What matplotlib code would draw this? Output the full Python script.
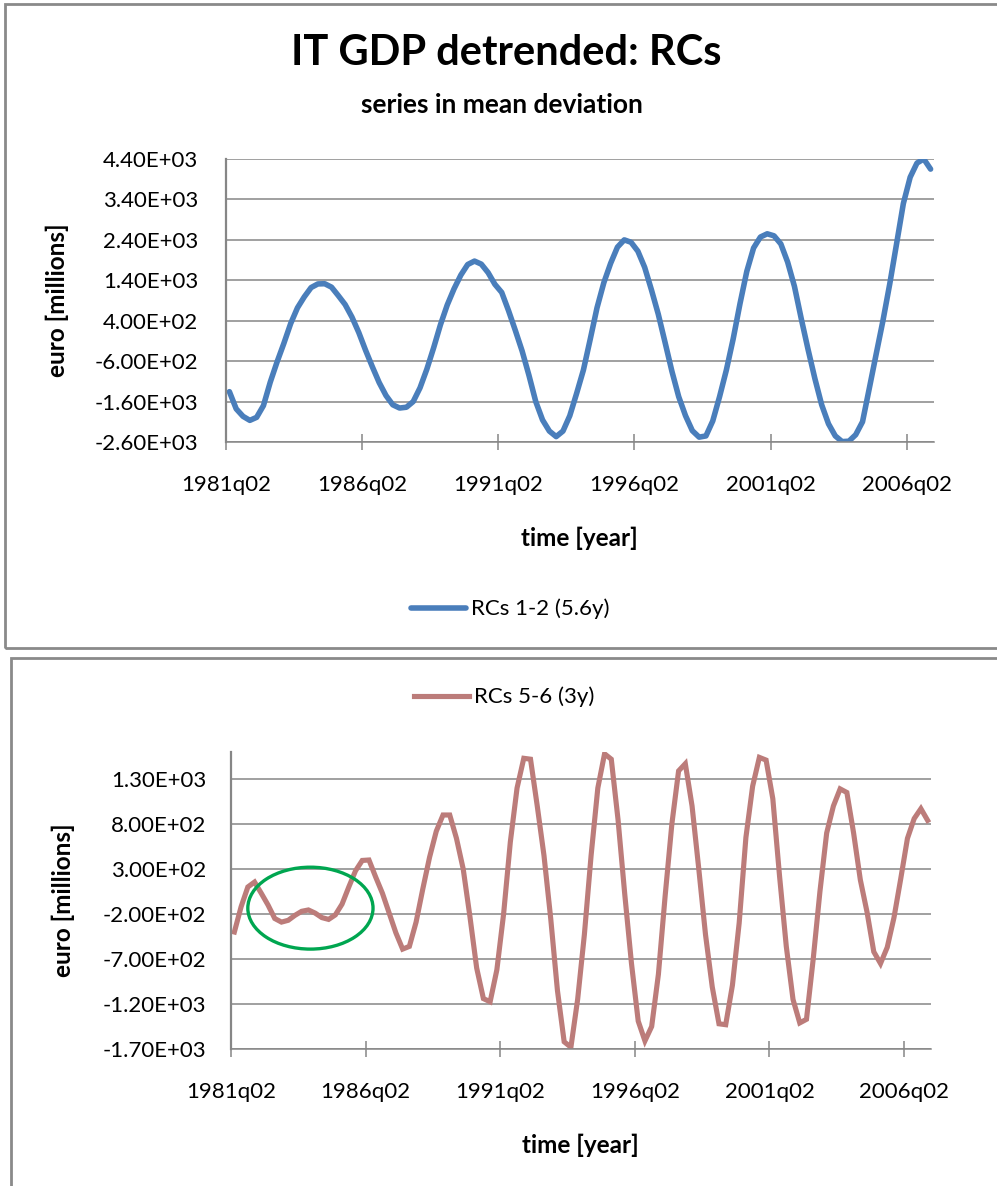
import matplotlib
matplotlib.use("Agg")
import matplotlib.pyplot as plt
from matplotlib.patches import Rectangle, Ellipse

plt.rcParams['font.family'] = ['Lato', 'DejaVu Sans']

# tick labels of the category axis (every 20 quarters)
quarter_labels = ["1981q02", "1986q02", "1991q02", "1996q02", "2001q02", "2006q02"]

# RCs 1-2 (5.6y), quarterly, 1981q2 .. 2007q1
rc12 = [
    -1355, -1780, -1965, -2065, -1990, -1700, -1120, -620, -160, 330,
    720, 990, 1220, 1310, 1315, 1230, 1020, 800, 490, 110,
    -330, -740, -1130, -1450, -1680, -1760, -1740, -1600, -1260, -800,
    -270, 300, 790, 1190, 1530, 1790, 1875, 1800, 1590, 1300,
    1100, 650, 160, -350, -950, -1600, -2055, -2330, -2467, -2330,
    -1950, -1400, -820, -60, 720, 1340, 1820, 2220, 2400, 2340,
    2120, 1720, 1160, 560, -140, -850, -1480, -1950, -2320, -2480,
    -2450, -2080, -1480, -820, -50, 820, 1620, 2200, 2470, 2550,
    2500, 2300, 1850, 1250, 450, -310, -1030, -1680, -2150, -2450,
    -2590, -2580, -2420, -2100, -1270, -430, 400, 1310, 2300, 3300,
    3950, 4300, 4400, 4150,
]

# RCs 5-6 (3y), same quarters
rc56 = [
    -400, -120, 100, 155, 30, -100, -250, -290, -270, -215,
    -170, -155, -190, -240, -260, -210, -90, 100, 280, 395,
    400, 210, 30, -190, -410, -590, -560, -290, 80, 430,
    720, 900, 900, 640, 300, -230, -800, -1140, -1175, -820,
    -200, 600, 1200, 1530, 1520, 1000, 450, -250, -1050, -1620,
    -1680, -1150, -430, 450, 1200, 1580, 1520, 850, 20, -750,
    -1390, -1610, -1450, -870, 0, 800, 1390, 1470, 1000, 300,
    -430, -1010, -1420, -1430, -990, -300, 650, 1220, 1540, 1510,
    1080, 220, -560, -1150, -1410, -1370, -700, 50, 700, 1000,
    1190, 1150, 700, 180, -180, -620, -750, -570, -240, 190,
    640, 860, 970, 840,
]

top_yticks = [-2600, -1600, -600, 400, 1400, 2400, 3400, 4400]
bottom_yticks = [-1700, -1200, -700, -200, 300, 800, 1300]

GRID = '#868686'
W, H = 997, 1186


def fx(px):
    return px / W


def fy(py):
    return 1 - py / H


def style(ax, yticks, ylim, ypad):
    n = len(rc12)
    ax.set_xlim(-0.5, n - 0.5)
    ax.set_ylim(*ylim)
    ax.set_yticks(yticks)
    ax.set_yticklabels([f"{v:.2E}" for v in yticks])
    ax.set_xticks([-0.5 + 20 * k for k in range(len(quarter_labels))])
    ax.set_xticklabels(quarter_labels)
    ax.grid(axis='y', color=GRID, lw=1.1)
    ax.grid(axis='x', visible=False)
    ax.set_axisbelow(True)
    for s in ['top', 'right']:
        ax.spines[s].set_visible(False)
    ax.spines['left'].set_color(GRID)
    ax.spines['left'].set_linewidth(1.6)
    ax.spines['bottom'].set_color(GRID)
    ax.spines['bottom'].set_linewidth(1.1)
    ax.tick_params(axis='y', length=0, pad=ypad, labelsize=16)
    ax.tick_params(axis='x', direction='inout', length=12, width=1.1,
                   color=GRID, pad=18, labelsize=16)


fig = plt.figure(figsize=(W / 100, H / 100), dpi=100)

# panel borders
fig.add_artist(Rectangle((fx(5), fy(648)), 1.1, fy(4) - fy(648), transform=fig.transFigure,
                         fill=False, edgecolor='#8a8a8a', lw=2, clip_on=False))
fig.add_artist(Rectangle((fx(11), fy(1200)), 1.1, fy(658) - fy(1200), transform=fig.transFigure,
                         fill=False, edgecolor='#8a8a8a', lw=2, clip_on=False))

# top chart
ax1 = fig.add_axes([fx(226), fy(442), fx(934) - fx(226), fy(159) - fy(442)])
line1, = ax1.plot(range(len(rc12)), rc12, color='#4A7EBB', lw=4.0,
                  solid_capstyle='round', solid_joinstyle='round',
                  label='RCs 1-2 (5.6y)')
style(ax1, top_yticks, (-2600, 4400), 20)

fig.text(fx(506), fy(53), 'IT GDP detrended: RCs', ha='center', va='center',
         fontsize=30, fontweight='bold')
fig.text(fx(502), fy(105), 'series in mean deviation', ha='center', va='center',
         fontsize=19, fontweight='bold')
fig.text(fx(57), fy(300), 'euro [millions]', rotation=90, ha='center', va='center',
         fontsize=17.5, fontweight='bold')
fig.text(fx(579), fy(538), 'time [year]', ha='center', va='center',
         fontsize=17.5, fontweight='bold')
ax1.legend(handles=[line1], loc='center', bbox_to_anchor=(fx(510), fy(609)),
           bbox_transform=fig.transFigure, frameon=False, fontsize=16,
           handlelength=2.5, handletextpad=0.2)

# bottom chart
ax2 = fig.add_axes([fx(231), fy(1049), fx(931) - fx(231), fy(752) - fy(1049)])
line2, = ax2.plot(range(len(rc56)), rc56, color='#BC7C7A', lw=3.7,
                  solid_joinstyle='miter', label='RCs 5-6 (3y)')
style(ax2, bottom_yticks, (-1700, 1600), 18)
ax2.add_patch(Ellipse((11.3, -135), width=18.6, height=910, fill=False,
                      edgecolor='#00A650', lw=2.4, zorder=5))

fig.text(fx(63), fy(900), 'euro [millions]', rotation=90, ha='center', va='center',
         fontsize=17.5, fontweight='bold')
fig.text(fx(580), fy(1145), 'time [year]', ha='center', va='center',
         fontsize=17.5, fontweight='bold')
ax2.legend(handles=[line2], loc='center', bbox_to_anchor=(fx(504), fy(697)),
           bbox_transform=fig.transFigure, frameon=False, fontsize=16,
           handlelength=2.5, handletextpad=0.2)

fig.savefig('out.png', dpi=100)
